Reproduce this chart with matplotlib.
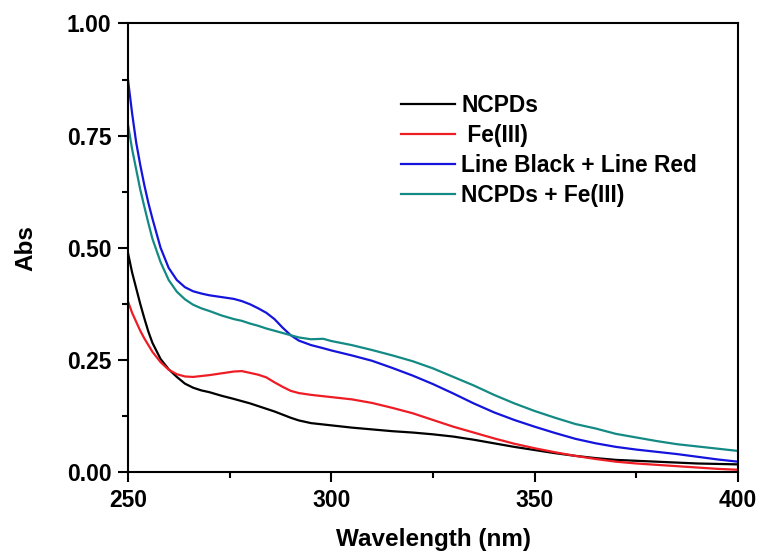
import matplotlib
matplotlib.use("Agg")
import matplotlib.pyplot as plt
from matplotlib.ticker import MultipleLocator, FormatStrFormatter

plt.rcParams['font.family'] = ['Liberation Sans', 'DejaVu Sans']
plt.rcParams['font.weight'] = 'bold'

wavelength = [250, 251, 252, 253, 254, 255, 256, 258, 260, 262, 264, 266, 268, 270,
              273, 276, 278, 280, 282, 284, 286, 288, 290, 292, 295, 298, 300,
              305, 310, 315, 320, 325, 330, 335, 340, 345, 350, 355, 360, 365,
              370, 375, 380, 385, 390, 395, 400]

ncpds = [0.488, 0.445, 0.410, 0.375, 0.343, 0.313, 0.288, 0.252, 0.229, 0.212, 0.197,
         0.188, 0.182, 0.178, 0.170, 0.163, 0.158, 0.153, 0.147, 0.141, 0.135, 0.128,
         0.121, 0.115, 0.109, 0.106, 0.104, 0.099, 0.095, 0.091, 0.088, 0.084, 0.079,
         0.072, 0.064, 0.056, 0.049, 0.042, 0.036, 0.031, 0.027, 0.025, 0.023, 0.021,
         0.019, 0.018, 0.017]

fe3 = [0.380, 0.355, 0.335, 0.315, 0.298, 0.283, 0.268, 0.245, 0.228, 0.218, 0.213,
       0.212, 0.214, 0.216, 0.220, 0.224, 0.225, 0.221, 0.217, 0.211, 0.200, 0.190,
       0.181, 0.176, 0.172, 0.169, 0.167, 0.162, 0.154, 0.143, 0.131, 0.116, 0.101,
       0.088, 0.075, 0.063, 0.053, 0.044, 0.036, 0.029, 0.023, 0.019, 0.016, 0.013,
       0.010, 0.007, 0.005]

line_sum = [0.874, 0.800, 0.735, 0.685, 0.640, 0.600, 0.565, 0.500, 0.455, 0.428, 0.412,
            0.403, 0.398, 0.394, 0.390, 0.386, 0.381, 0.374, 0.365, 0.355, 0.341, 0.322,
            0.305, 0.293, 0.283, 0.276, 0.271, 0.260, 0.248, 0.232, 0.215, 0.196, 0.175,
            0.153, 0.133, 0.116, 0.101, 0.087, 0.074, 0.064, 0.056, 0.050, 0.045, 0.040,
            0.034, 0.028, 0.023]

ncpds_fe3 = [0.774, 0.720, 0.675, 0.630, 0.592, 0.555, 0.520, 0.468, 0.428, 0.402, 0.385,
             0.373, 0.365, 0.359, 0.349, 0.341, 0.337, 0.331, 0.326, 0.320, 0.315, 0.310,
             0.305, 0.300, 0.296, 0.297, 0.292, 0.283, 0.272, 0.260, 0.247, 0.231, 0.212,
             0.193, 0.172, 0.153, 0.136, 0.121, 0.107, 0.097, 0.085, 0.077, 0.069, 0.062,
             0.057, 0.052, 0.047]

labels = ["NCPDs", " Fe(III)", "Line Black + Line Red", "NCPDs + Fe(III)"]
colors = ["#000000", "#ee1c24", "#1414dc", "#148a84"]

fig = plt.figure(figsize=(7.58, 5.54), dpi=100)
ax = fig.add_axes([0.1689, 0.148, 0.8047, 0.8096])

for ys, lab, c in zip([ncpds, fe3, line_sum, ncpds_fe3], labels, colors):
    ax.plot(wavelength, ys, color=c, lw=1.6, label=lab)

ax.set_xlim(250, 400)
ax.set_ylim(0, 1.0)
ax.xaxis.set_major_locator(MultipleLocator(50))
ax.xaxis.set_minor_locator(MultipleLocator(25))
ax.yaxis.set_major_locator(MultipleLocator(0.25))
ax.yaxis.set_minor_locator(MultipleLocator(0.125))
ax.yaxis.set_major_formatter(FormatStrFormatter('%.2f'))

for s in ax.spines.values():
    s.set_linewidth(1.5)
ax.tick_params(which='major', direction='out', length=7, width=1.5, labelsize=16.5, pad=5)
ax.tick_params(which='minor', direction='out', length=4, width=1.5)

ax.set_xlabel("Wavelength (nm)", fontsize=17.5, fontweight='bold', labelpad=12)
ax.set_ylabel("Abs", fontsize=17.5, fontweight='bold', labelpad=21)

leg = ax.legend(loc='upper left', bbox_to_anchor=(0.447, 0.842), frameon=False,
                fontsize=16.4, handlelength=2.37, handletextpad=0.3, labelspacing=0.3,
                borderpad=0, borderaxespad=0)
for t in leg.get_texts():
    t.set_fontweight('bold')

fig.savefig("out.png", dpi=100)
